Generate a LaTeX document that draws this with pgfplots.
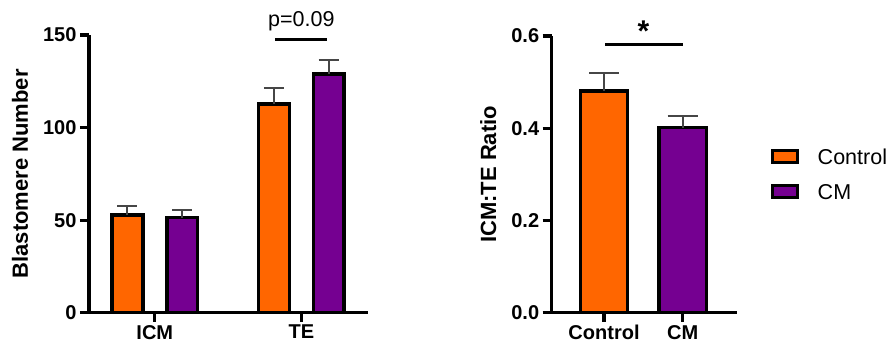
\documentclass[border=0pt]{standalone}
\usepackage{pgfplots}
\pgfplotsset{compat=1.18}
\usepackage{fontspec}
\setmainfont{Liberation Sans}
\definecolor{ctrl}{RGB}{255,102,0}
\definecolor{cmc}{RGB}{117,0,145}
\definecolor{errc}{RGB}{70,70,70}
\pgfplotsset{
  gp/.style={
    scale only axis, clip=false,
    axis lines=left, axis line style={line width=3.2pt,-},
    tick align=outside, major tick length=9pt,
    tick style={line width=3.2pt, black},
    ymin=0,
    /pgf/number format/assume math mode=true,
    ticklabel style={font=\bfseries\fontsize{20}{24}\selectfont},
    ylabel style={font=\bfseries\fontsize{22}{26}\selectfont, anchor=center},
    xtick={0,1},
  },
  limg/.style={legend image code/.code={\draw[##1, line width=3pt] (0pt,-4.5pt) rectangle (25pt,7.5pt);}},
}
\begin{document}
\begin{tikzpicture}
\useasboundingbox (0,0) rectangle (890pt,356pt);
% left panel
\begin{axis}[gp,
  at={(89pt,43.3pt)}, anchor=south west,
  width=279pt, height=277.7pt,
  xmin=-0.449, xmax=1.455, ymax=150,
  ytick={0,50,100,150},
  xticklabels={ICM,TE},
  ylabel={Blastomere Number},
  ylabel style={at={(axis description cs:-0.247,0.5)}},
]
\addplot[ybar, bar shift=0pt, bar width=0.21, fill=ctrl, draw=black, line width=3.5pt,
  error bars/.cd, y dir=plus, y explicit,
  error bar style={line width=2pt, errc},
  error mark options={rotate=90, line width=2pt, errc, mark size=10pt}]
  coordinates {(-0.187,52.8) +- (0,4.8) (0.813,112.8) +- (0,8.6)};
\addplot[ybar, bar shift=0pt, bar width=0.21, fill=cmc, draw=black, line width=3.5pt,
  error bars/.cd, y dir=plus, y explicit,
  error bar style={line width=2pt, errc},
  error mark options={rotate=90, line width=2pt, errc, mark size=10pt}]
  coordinates {(0.187,51.4) +- (0,4.1) (1.187,129.0) +- (0,7.4)};
\draw[line width=3pt] (axis cs:0.823,147.3) -- (axis cs:1.177,147.3);
\node[anchor=base, inner sep=0pt, font=\fontsize{21.5}{24}\selectfont] at (axis cs:1.0,154.4) {p=0.09};
\end{axis}
% right panel
\begin{axis}[gp,
  at={(551.7pt,43.3pt)}, anchor=south west,
  width=185.3pt, height=276.7pt,
  xmin=-0.665, xmax=1.69, ymax=0.6,
  ytick={0,0.2,0.4,0.6},
  yticklabel style={/pgf/number format/.cd, fixed, fixed zerofill, precision=1},
  xticklabels={Control,CM},
  ylabel={ICM:TE Ratio},
  ylabel style={at={(axis description cs:-0.342,0.5)}},
  legend cell align=left,
  legend style={at={(axis description cs:1.182,0.593)}, anchor=north west,
    draw=none, fill=none, inner sep=0pt, outer sep=0pt, row sep=18pt,
    font=\fontsize{21.5}{24}\selectfont,
    nodes={inner sep=0pt},
    /tikz/every odd column/.append style={column sep=19pt}},
]
\addplot[ybar, bar shift=0pt, bar width=0.60, fill=ctrl, draw=black, line width=3.5pt, limg,
  error bars/.cd, y dir=plus, y explicit,
  error bar style={line width=2pt, errc},
  error mark options={rotate=90, line width=2pt, errc, mark size=15pt}]
  coordinates {(0,0.481) +- (0,0.038)};
\addplot[ybar, bar shift=0pt, bar width=0.60, fill=cmc, draw=black, line width=3.5pt, limg,
  error bars/.cd, y dir=plus, y explicit,
  error bar style={line width=2pt, errc},
  error mark options={rotate=90, line width=2pt, errc, mark size=15pt}]
  coordinates {(1,0.4015) +- (0,0.0255)};
\legend{Control,CM}
\draw[line width=3pt] (axis cs:0.013,0.582) -- (axis cs:1.0,0.582);
\node[inner sep=0pt, font=\bfseries\fontsize{30}{32}\selectfont] at (axis cs:0.5,0.611) {*};
\end{axis}
\end{tikzpicture}
\end{document}
